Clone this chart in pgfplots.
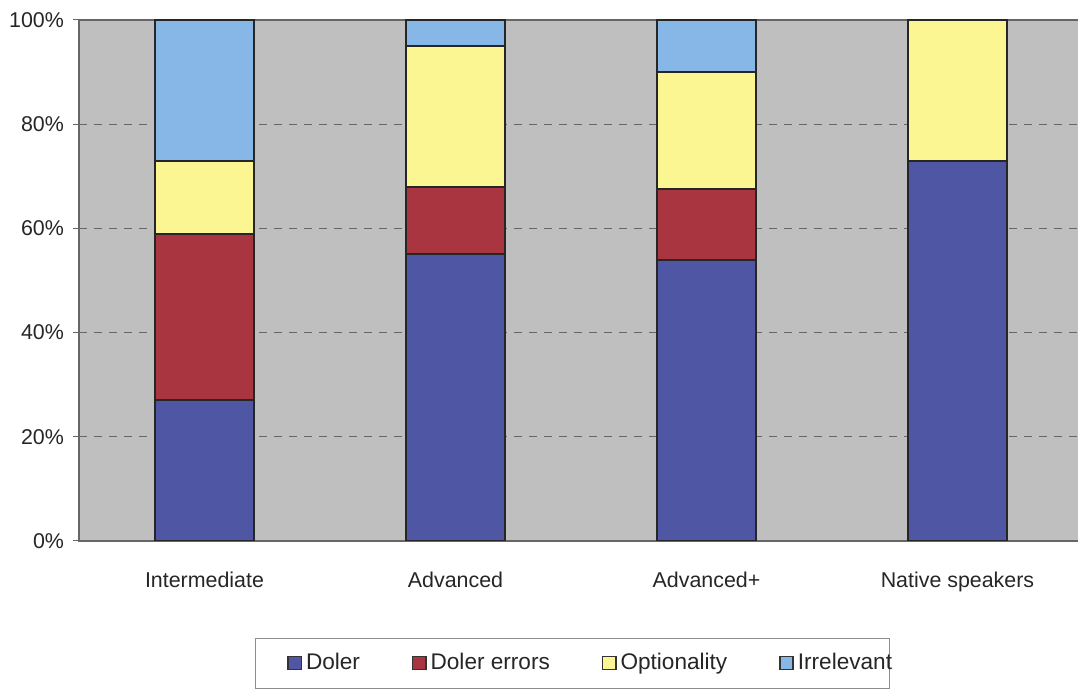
\documentclass[border=0pt]{standalone}
\usepackage{pgfplots}
\pgfplotsset{compat=1.18}
\usepackage{fontspec}
\setmainfont{Liberation Sans}
\definecolor{cDoler}{HTML}{4F56A4}
\definecolor{cErr}{HTML}{A8353F}
\definecolor{cOpt}{HTML}{FBF692}
\definecolor{cIrr}{HTML}{86B7E6}
\definecolor{cBg}{HTML}{BFBFBF}
\begin{document}
\begin{tikzpicture}[x=1pt,y=1pt]
\useasboundingbox (-39.5,-74.5) rectangle (499.5,270.5);
\draw[black!45,fill=white] (88,-48.5) rectangle (405,-73.5);
\begin{axis}[
  at={(0,0)}, anchor=south west,
  scale only axis, width=502pt, height=260.5pt,
  xmin=0, xmax=4, ymin=0, ymax=100,
  ybar stacked, bar width=49.5pt,
  axis background/.style={fill=cBg},
  axis line style={black!60, line width=0.6pt},
  xtick={0.5,1.5,2.5,3.5},
  xticklabels={Intermediate,Advanced,Advanced+,Native speakers},
  xtick style={draw=none},
  xticklabel style={yshift=-9pt},
  ytick={0,20,40,60,80,100},
  yticklabels={0\%,20\%,40\%,60\%,80\%,100\%},
  ytick pos=left, tick align=outside,
  major tick length=3pt,
  ytick style={black!60, line width=0.5pt},
  yticklabel style={xshift=-1pt},
  ymajorgrids,
  grid style={black!60, dash pattern=on 4pt off 3.5pt, line width=0.5pt},
  tick label style={font=\fontsize{10.7}{12}\selectfont, text=black!85},
  every axis plot/.append style={draw=black!85, line width=1pt},
  legend columns=4,
  legend style={draw=none, fill=none,
    at={(axis description cs:0.2012,-0.234)}, anchor=west,
    font=\fontsize{11.3}{13}\selectfont, text=black!85,
    nodes={inner xsep=2pt},
    /tikz/every even column/.append style={column sep=24pt}},
  legend image code/.code={\draw[#1, line width=0.7pt, draw=black!80] (0pt,-3.3pt) rectangle (6.6pt,3.3pt);},
]
\addplot[fill=cDoler] coordinates {(0.5,27) (1.5,55) (2.5,54) (3.5,73)};
\addplot[fill=cErr] coordinates {(0.5,32) (1.5,13) (2.5,13.5) (3.5,0)};
\addplot[fill=cOpt] coordinates {(0.5,14) (1.5,27) (2.5,22.5) (3.5,27)};
\addplot[fill=cIrr] coordinates {(0.5,27) (1.5,5) (2.5,10) (3.5,0)};
\legend{Doler,Doler errors,Optionality,Irrelevant}
\end{axis}
\end{tikzpicture}
\end{document}
